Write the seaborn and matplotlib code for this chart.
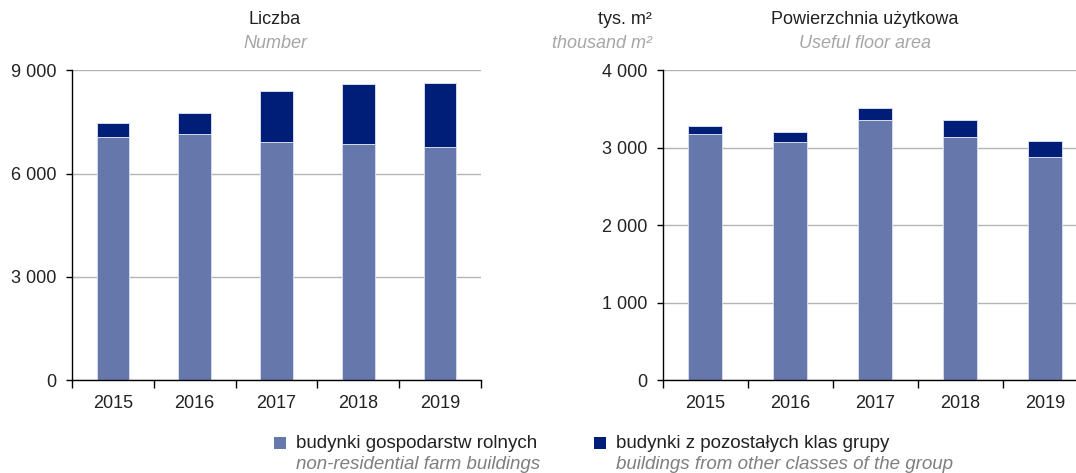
import matplotlib
matplotlib.use("Agg")
import matplotlib.pyplot as plt
from matplotlib.patches import Rectangle
from matplotlib.ticker import FuncFormatter, FixedLocator
import seaborn as sns
import pandas as pd

# Data
years = ["2015", "2016", "2017", "2018", "2019"]
count_farm = [7077, 7144, 6912, 6853, 6785]
count_other = [388, 610, 1501, 1745, 1851]
area_farm = [3180, 3077, 3357, 3137, 2878]
area_other = [104, 129, 160, 229, 216]

legend_pl = ["budynki gospodarstw rolnych", "budynki z pozostałych klas grupy"]
legend_en = ["non-residential farm buildings", "buildings from other classes of the group"]

LIGHT = "#6677AB"
DARK = "#001E78"
GRID = "#B4B4B4"
GRAYTXT = "#A6A6A6"
TXT = "#222222"

sns.set_theme(style="white")
plt.rcParams["font.family"] = ["Liberation Sans", "DejaVu Sans"]

W, H = 1076, 473
fig = plt.figure(figsize=(W / 100, H / 100), dpi=100)


def fx(px):
    return px / W


def fy(py):
    return 1 - py / H


def thousands(v, _pos):
    return f"{int(v):,}".replace(",", " ")


def draw_panel(ax, farm, other, ymax, step):
    df = pd.DataFrame({"year": years, "farm": farm,
                       "total": [a + b for a, b in zip(farm, other)]})
    sns.barplot(data=df, x="year", y="total", color=DARK, width=0.4,
                edgecolor="#D5DBEA", linewidth=0.7, saturation=1, ax=ax)
    sns.barplot(data=df, x="year", y="farm", color=LIGHT, width=0.4,
                edgecolor="#D5DBEA", linewidth=0.7, saturation=1, ax=ax)
    ax.set_xlim(-0.5, len(years) - 0.5)
    ax.set_ylim(0, ymax)
    ax.set_yticks(list(range(0, ymax + 1, step)))
    ax.yaxis.set_major_formatter(FuncFormatter(thousands))
    ax.set_xlabel("")
    ax.set_ylabel("")
    ax.yaxis.grid(True, color=GRID, linewidth=1)
    ax.set_axisbelow(True)
    for s in ("top", "right"):
        ax.spines[s].set_visible(False)
    for s in ("left", "bottom"):
        ax.spines[s].set_color("#000000")
        ax.spines[s].set_linewidth(1.0)
    ax.tick_params(axis="y", which="major", left=True, length=4, width=1,
                   color="#000000", pad=7, labelsize=13, labelcolor=TXT)
    ax.tick_params(axis="x", which="major", bottom=False, length=0, pad=11,
                   labelsize=13, labelcolor=TXT)
    ax.xaxis.set_minor_locator(FixedLocator([i - 0.5 for i in range(len(years) + 1)]))
    ax.tick_params(axis="x", which="minor", bottom=True, length=6, width=1,
                   color="#000000")


ax1 = fig.add_axes([fx(72), fy(380), fx(481 - 72), fy(70.5) - fy(380)])
draw_panel(ax1, count_farm, count_other, 9000, 3000)

ax2 = fig.add_axes([fx(662.7), fy(380), fx(1087.5 - 662.7), fy(70.5) - fy(380)])
draw_panel(ax2, area_farm, area_other, 4000, 1000)

# Titles
fig.text(fx(275), fy(20), "Liczba", ha="center", va="center", fontsize=13, color=TXT)
fig.text(fx(275), fy(43), "Number", ha="center", va="center", fontsize=13,
         color=GRAYTXT, style="italic")
fig.text(fx(865), fy(20), "Powierzchnia użytkowa", ha="center", va="center",
         fontsize=13, color=TXT)
fig.text(fx(865), fy(43), "Useful floor area", ha="center", va="center", fontsize=13,
         color=GRAYTXT, style="italic")
fig.text(fx(652), fy(20), "tys. m²", ha="right", va="center", fontsize=13, color=TXT)
fig.text(fx(652), fy(43), "thousand m²", ha="right", va="center", fontsize=13,
         color=GRAYTXT, style="italic")

# Legend
for x0, color, pl, en in [(274, LIGHT, legend_pl[0], legend_en[0]),
                          (594, DARK, legend_pl[1], legend_en[1])]:
    fig.add_artist(Rectangle((fx(x0), fy(449)), fx(12), fy(437) - fy(449),
                             transform=fig.transFigure, facecolor=color,
                             edgecolor="none"))
    fig.text(fx(x0 + 22), fy(443), pl, ha="left", va="center", fontsize=13.5,
             color=TXT)
    fig.text(fx(x0 + 22), fy(464), en, ha="left", va="center", fontsize=13.5,
             color="#7F7F7F", style="italic")

fig.savefig("out.png", dpi=100)
